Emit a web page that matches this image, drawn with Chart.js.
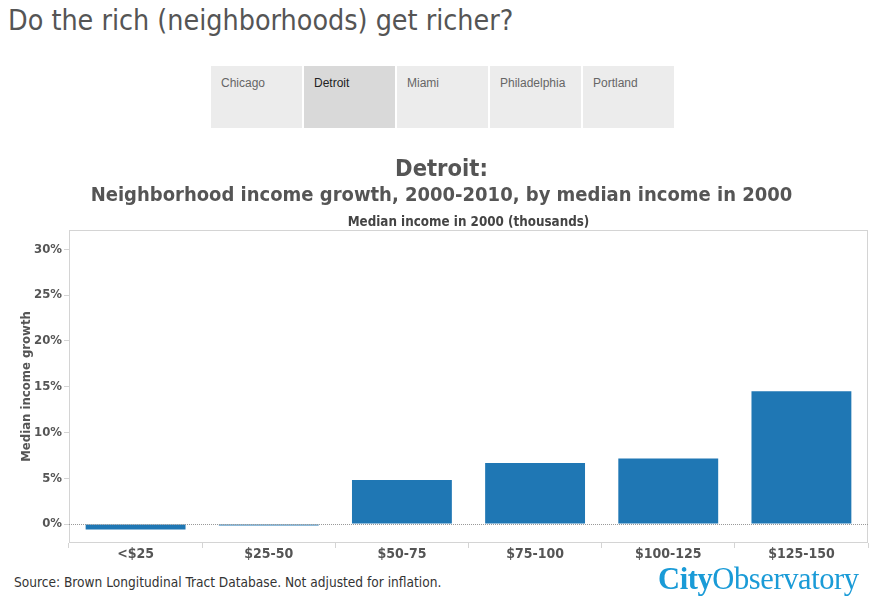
<!DOCTYPE html>
<html>
<head>
    <title>Do the rich (neighborhoods) get richer?</title>
    <script src="https://cdn.jsdelivr.net/npm/chart.js"></script>
    <style>
        body { margin: 0; width: 883px; height: 608px; position: relative; background: #fff; overflow: hidden;
               font-family: "DejaVu Sans Condensed", "DejaVu Sans", sans-serif; }
        h1 { position: absolute; left: 8px; top: 4px; margin: 0; font-size: 28.4px; font-weight: normal; color: #555; }
        .tabs { position: absolute; left: 211px; top: 66px; display: flex; }
        .tab { width: 91px; height: 62px; margin-right: 2px; background: #ececec; box-sizing: border-box;
               padding: 10px 0 0 10px; font: 12px "Liberation Sans", Arial, sans-serif; color: #666; }
        .tab.active { background: #d9d9d9; color: #222; }
        #wrap { position: absolute; left: 0; top: 150px; width: 883px; height: 420px; }
        .source { position: absolute; left: 14px; top: 574px; font-size: 13.6px; color: #333; }
        .logo { position: absolute; left: 658px; top: 562px; font: 30.5px "Liberation Serif", serif; color: #1a9bd7; letter-spacing: -0.4px; }
        .logo b { font-weight: bold; }
    </style>
</head>
<body>
    <h1>Do the rich (neighborhoods) get richer?</h1>
    <div class="tabs">
        <div class="tab">Chicago</div>
        <div class="tab active">Detroit</div>
        <div class="tab">Miami</div>
        <div class="tab">Philadelphia</div>
        <div class="tab">Portland</div>
    </div>
    <div id="wrap"><canvas id="incomeChart"></canvas></div>
    <div class="source">Source: Brown Longitudinal Tract Database. Not adjusted for inflation.</div>
    <div class="logo"><b>City</b>Observatory</div>

    <script>
    const incomeBands = ['<$25', '$25-50', '$50-75', '$75-100', '$100-125', '$125-150'];
    const growthPct = [-0.6, -0.15, 4.8, 6.65, 7.15, 14.5];
    const yTicks = [0, 5, 10, 15, 20, 25, 30];

    const fontFam = '"DejaVu Sans Condensed", "DejaVu Sans", sans-serif';

    // light frame round the plot and the dotted zero line
    const framePlugin = {
        id: 'frame',
        afterDatasetsDraw(chart) {
            const { ctx, chartArea: a, scales } = chart;
            ctx.save();
            ctx.strokeStyle = '#d4d4d4';
            ctx.lineWidth = 1;
            ctx.strokeRect(a.left + 0.5, a.top + 0.5, a.right - a.left - 1, a.bottom - a.top - 1);
            const y0 = Math.round(scales.y.getPixelForValue(0)) + 0.5;
            ctx.strokeStyle = '#999';
            ctx.setLineDash([1, 1]);
            ctx.beginPath();
            ctx.moveTo(a.left, y0);
            ctx.lineTo(a.right, y0);
            ctx.stroke();
            ctx.restore();
        }
    };

    new Chart(document.getElementById('incomeChart'), {
        type: 'bar',
        data: {
            labels: incomeBands,
            datasets: [{
                data: growthPct,
                backgroundColor: '#1f77b4',
                categoryPercentage: 1,
                barPercentage: 0.75
            }]
        },
        options: {
            responsive: true,
            maintainAspectRatio: false,
            animation: false,
            layout: { padding: 0 },
            plugins: {
                legend: { display: false },
                tooltip: { enabled: false },
                title: {
                    display: true,
                    text: 'Detroit:',
                    color: '#555',
                    font: { family: fontFam, size: 23.5, weight: 'bold', lineHeight: '28px' },
                    padding: { top: 6, bottom: 0 }
                },
                subtitle: {
                    display: true,
                    text: 'Neighborhood income growth, 2000-2010, by median income in 2000',
                    color: '#555',
                    font: { family: fontFam, size: 20, weight: 'bold', lineHeight: '24px' },
                    padding: { top: 0, bottom: 0 }
                }
            },
            scales: {
                x: {
                    position: 'bottom',
                    grid: { drawOnChartArea: false, tickLength: 5, color: '#d4d4d4' },
                    border: { display: false },
                    ticks: { color: '#555', padding: -2, font: { family: fontFam, size: 14, weight: 'bold' } },
                    afterFit(scale) { scale.height = 27; }
                },
                x2: {
                    type: 'category',
                    labels: incomeBands,
                    position: 'top',
                    grid: { display: false },
                    border: { display: false },
                    ticks: { display: false },
                    title: {
                        display: true,
                        text: 'Median income in 2000 (thousands)',
                        color: '#444',
                        font: { family: fontFam, size: 13.3, weight: 'bold', lineHeight: '16px' },
                        padding: { top: 7, bottom: 0 }
                    },
                    afterFit(scale) { scale.height = 22; }
                },
                y: {
                    min: -2.07,
                    max: 32.1,
                    afterBuildTicks(scale) { scale.ticks = yTicks.map(v => ({ value: v })); },
                    grid: { drawOnChartArea: false, tickLength: 5, color: '#d4d4d4' },
                    border: { display: false },
                    ticks: {
                        color: '#555',
                        padding: 2,
                        font: { family: fontFam, size: 13, weight: 'bold' },
                        callback: v => v + '%'
                    },
                    title: {
                        display: true,
                        text: 'Median income growth',
                        color: '#555',
                        font: { family: fontFam, size: 13, weight: 'bold', lineHeight: '16px' },
                        padding: { top: 19, bottom: 0 }
                    },
                    afterFit(scale) { scale.width = 69; }
                },
                // empty right-hand axis, only to keep 15px free right of the plot
                y2: {
                    position: 'right',
                    grid: { display: false },
                    border: { display: false },
                    ticks: { display: false },
                    afterFit(scale) { scale.width = 15; }
                }
            }
        },
        plugins: [framePlugin]
    });
    </script>
</body>
</html>
